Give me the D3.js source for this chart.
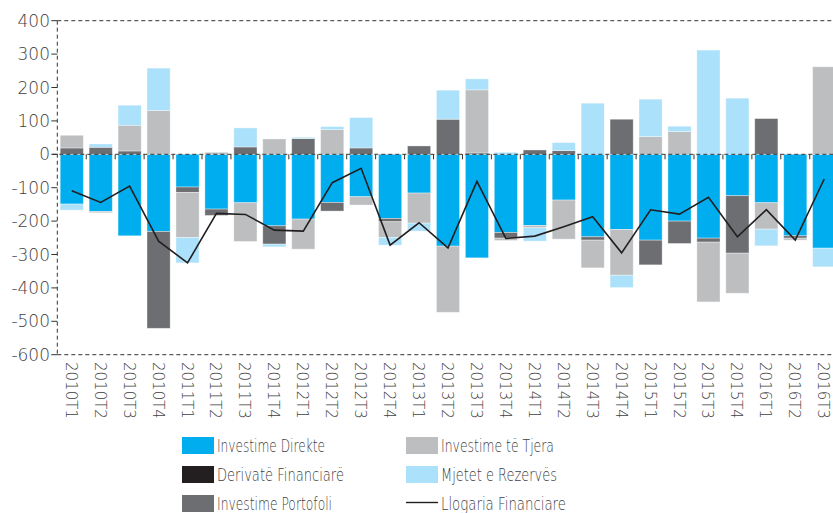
<!DOCTYPE html>
<html>
<head>
<meta charset="utf-8">
<script src="https://cdn.jsdelivr.net/npm/d3@7"></script>
<style>
  body { margin: 0; background: #fff; }
  text { font-family: "DejaVu Sans", "Liberation Sans", sans-serif; font-weight: 200; fill: #414042; }
</style>
</head>
<body>
<div id="vis"></div>
<script>
// quarters on the x axis
var periods = ['2010T1','2010T2','2010T3','2010T4','2011T1','2011T2','2011T3','2011T4',
  '2012T1','2012T2','2012T3','2012T4','2013T1','2013T2','2013T3','2013T4',
  '2014T1','2014T2','2014T3','2014T4','2015T1','2015T2','2015T3','2015T4',
  '2016T1','2016T2','2016T3'];

// components
var investimeDirekte = [-149,-171,-244,-231,-98,-164,-145,-214,-194,-144,-127,-192,-116,-275,-310,-234,
  -213,-137,-247,-225,-257,-200,-251,-124,-145,-244,-281];
var derivateFinanciare = [0,0,0,0,0,0,0,0,0,0,0,0,0,0,0,0,0,0,0,0,0,0,0,0,0,0,0];
var investimePortofoli = [19,21,10,-290,-16,-19,22,-55,47,-26,19,-10,25,105,4,-17,
  13,11,-10,105,-74,-67,-12,-172,107,-7,0];
var investimeTjera = [38,-4,77,131,-135,6,-116,46,-90,74,-25,-47,-90,-198,189,-7,
  -7,-117,-83,-137,53,68,-179,-120,-79,-6,262];
var mjetetRezerves = [-18,10,60,127,-76,0,57,-8,4,9,91,-23,-24,87,33,6,
  -40,24,153,-37,112,16,312,168,-50,0,-56];
var llogariaFinanciare = [-109,-144,-95,-260,-325,-177,-180,-227,-230,-85,-42,-272,-205,-280,-81,-252,
  -245,-217,-187,-295,-166,-179,-129,-247,-166,-257,-74];

var yTicks = [400,300,200,100,0,-100,-200,-300,-400,-500,-600];

var seriesNames = ['Investime Direkte','Derivatë Financiarë','Investime Portofoli','Investime të Tjera','Mjetet e Rezervës'];
var seriesColors = ['#00aeef','#231f20','#6d6e71','#bcbec0','#abe1fa'];

var width = 833, height = 513;
var left = 57.3, step = 28.94;
var svg = d3.select('#vis').append('svg').attr('width', width).attr('height', height);

var x = d3.scaleBand().domain(periods)
  .range([left, left + step * periods.length])
  .paddingInner(0.2).paddingOuter(0.1);
var y = d3.scaleLinear().domain([-600, 400]).range([354.7, 20.7]);

var table = periods.map(function (p, i) {
  return {
    period: p,
    'Investime Direkte': investimeDirekte[i],
    'Derivatë Financiarë': derivateFinanciare[i],
    'Investime Portofoli': investimePortofoli[i],
    'Investime të Tjera': investimeTjera[i],
    'Mjetet e Rezervës': mjetetRezerves[i]
  };
});

var stacked = d3.stack().keys(seriesNames).offset(d3.stackOffsetDiverging)(table);

svg.append('g').selectAll('g')
  .data(stacked)
  .join('g')
  .attr('fill', function (d, i) { return seriesColors[i]; })
  .selectAll('rect')
  .data(function (d) { return d; })
  .join('rect')
  .attr('x', function (d) { return x(d.data.period); })
  .attr('width', x.bandwidth())
  .attr('y', function (d) { return y(Math.max(d[0], d[1])); })
  .attr('height', function (d) { return Math.abs(y(d[0]) - y(d[1])); })
  .attr('stroke', 'rgba(255,255,255,0.45)')
  .attr('stroke-width', 0.8);

// frame lines
var dash = '4,3';
var right = width + 5;
svg.append('line').attr('x1', left).attr('x2', right).attr('y1', y(400)).attr('y2', y(400))
  .attr('stroke', '#333').attr('stroke-dasharray', dash);
svg.append('line').attr('x1', left).attr('x2', right).attr('y1', y(-600)).attr('y2', y(-600))
  .attr('stroke', '#333').attr('stroke-dasharray', dash);
svg.append('line').attr('x1', left).attr('x2', left).attr('y1', y(400)).attr('y2', y(-600))
  .attr('stroke', '#333').attr('stroke-dasharray', dash);
svg.append('line').attr('x1', left - 5).attr('x2', right).attr('y1', y(0)).attr('y2', y(0))
  .attr('stroke', '#333').attr('stroke-dasharray', dash);

// small ticks on the zero line at band edges
svg.append('g').selectAll('line')
  .data(periods.slice(1))
  .join('line')
  .attr('x1', function (d) { return x(d) - x.step() * x.paddingInner() / 2; })
  .attr('x2', function (d) { return x(d) - x.step() * x.paddingInner() / 2; })
  .attr('y1', y(0)).attr('y2', y(0) + 5)
  .attr('stroke', '#333').attr('stroke-width', 1);

// y axis ticks and labels
var yAxis = svg.append('g');
yAxis.selectAll('line').data(yTicks).join('line')
  .attr('x1', left - 6).attr('x2', left)
  .attr('y1', function (d) { return y(d); }).attr('y2', function (d) { return y(d); })
  .attr('stroke', '#333');
yAxis.selectAll('text').data(yTicks).join('text')
  .attr('x', 50).attr('y', function (d) { return y(d) + 6; })
  .attr('text-anchor', 'end')
  .style('font-size', '17px')
  .text(function (d) { return d; });

// x labels, rotated
svg.append('g').selectAll('text')
  .data(periods)
  .join('text')
  .attr('transform', function (d) {
    return 'translate(' + (x(d) + x.bandwidth() / 2 - 6) + ',' + 362 + ') rotate(90)';
  })
  .attr('text-anchor', 'start')
  .style('font-size', '15px')
  .text(function (d) { return d; });

// financial account line
var line = d3.line()
  .x(function (d, i) { return x(periods[i]) + x.bandwidth() / 2; })
  .y(function (d) { return y(d); });
svg.append('path').datum(llogariaFinanciare)
  .attr('d', line).attr('fill', 'none')
  .attr('stroke', '#231f20').attr('stroke-width', 1.6);

// legend
var legendItems = [
  { name: 'Investime Direkte', color: '#00aeef', col: 0, row: 0, w: 108 },
  { name: 'Derivatë Financiarë', color: '#231f20', col: 0, row: 1, w: 127 },
  { name: 'Investime Portofoli', color: '#6d6e71', col: 0, row: 2, w: 115 },
  { name: 'Investime të Tjera', color: '#bcbec0', col: 1, row: 0, w: 113 },
  { name: 'Mjetet e Rezervës', color: '#abe1fa', col: 1, row: 1, w: 116 },
  { name: 'Llogaria Financiare', color: null, col: 1, row: 2, w: 125 }
];
var colX = [182, 406];
var legend = svg.append('g').selectAll('g').data(legendItems).join('g')
  .attr('transform', function (d) { return 'translate(' + colX[d.col] + ',' + (437 + d.row * 29) + ')'; });
legend.filter(function (d) { return d.color; }).append('rect')
  .attr('width', 32).attr('height', 17)
  .attr('fill', function (d) { return d.color; });
legend.filter(function (d) { return !d.color; }).append('line')
  .attr('x1', 0).attr('x2', 32).attr('y1', 7.5).attr('y2', 7.5)
  .attr('stroke', '#231f20').attr('stroke-width', 1.4);
legend.append('text')
  .attr('x', 35).attr('y', 15)
  .attr('textLength', function (d) { return d.w; })
  .attr('lengthAdjust', 'spacingAndGlyphs')
  .style('font-size', '18px')
  .text(function (d) { return d.name; });
</script>
</body>
</html>
